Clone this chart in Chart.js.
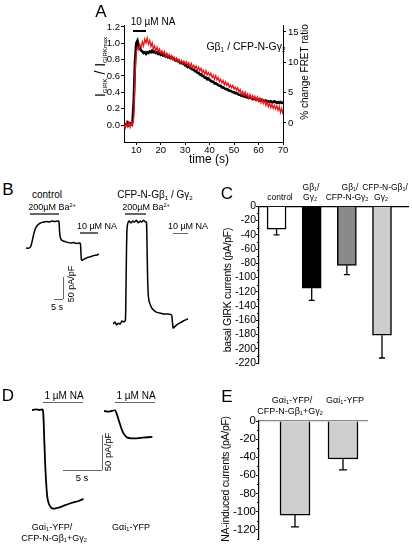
<!DOCTYPE html>
<html>
<head>
<meta charset="utf-8">
<script src="https://cdn.jsdelivr.net/npm/chart.js@4.4.1/dist/chart.umd.min.js"></script>
<style>
body{margin:0;background:#fff;}
#fig{position:relative;width:412px;height:546px;overflow:hidden;font-family:"Liberation Sans",Arial,sans-serif;color:#000;}
canvas{position:absolute;}
.t{position:absolute;transform:translate(-50%,-50%);white-space:nowrap;line-height:1;}
.r{transform:translate(-50%,-50%) rotate(-90deg);}
.k{position:absolute;background:#000;}
.g{background:#666;}
.ttl{font-size:10.5px;letter-spacing:-0.3px;}
sub{font-size:0.62em;vertical-align:-0.3em;line-height:0;}
sup{font-size:0.62em;vertical-align:0.5em;line-height:0;}
.L{font-size:17px;}
</style>
</head>
<body>
<div id="fig">
  <canvas id="cA" width="412" height="170" style="left:0;top:0"></canvas>
  <canvas id="cB1"></canvas>
  <canvas id="cB2"></canvas>
  <canvas id="cC" width="212" height="170" style="left:200px;top:200px"></canvas>
  <canvas id="cD1"></canvas>
  <canvas id="cD2"></canvas>
  <canvas id="cE" width="212" height="146" style="left:200px;top:400px"></canvas>

  <!-- A -->
  <div class="t L" style="left:101px;top:11px">A</div>
  <div class="t" style="left:153px;top:22px;font-size:10px">10 µM NA</div>
  <div class="k" style="left:133px;top:29.5px;width:13px;height:2.5px"></div>
  <div class="t" style="left:246px;top:46px;font-size:10.5px">Gβ<sub>1</sub> / CFP-N-Gγ<sub>2</sub></div>
  <div class="t r" style="left:100px;top:67px;font-size:14px">I<sub style="font-size:6px">GIRK</sub> / I<sub style="font-size:6px">GIRKmax</sub></div>
  <div class="t r" style="left:305px;top:72px;font-size:10px">% change FRET ratio</div>
  <div class="t" style="left:209px;top:159px;font-size:12px">time (s)</div>

  <!-- B -->
  <div class="t L" style="left:8px;top:189px">B</div>
  <div class="t" style="left:47px;top:195px;font-size:10px">control</div>
  <div class="t" style="left:52px;top:207px;font-size:9px">200µM Ba<sup>2+</sup></div>
  <div class="k g" style="left:30px;top:213px;width:29px;height:1.5px"></div>
  <div class="t" style="left:97px;top:226px;font-size:9px">10 µM NA</div>
  <div class="k g" style="left:80px;top:232px;width:18px;height:1.5px"></div>
  <div class="t" style="left:155px;top:195px;font-size:10px">CFP-N-Gβ<sub>1</sub> / Gγ<sub>2</sub></div>
  <div class="t" style="left:146px;top:207px;font-size:9px">200µM Ba<sup>2+</sup></div>
  <div class="k g" style="left:125px;top:213px;width:21px;height:1.5px"></div>
  <div class="t" style="left:188px;top:226px;font-size:9px">10 µM NA</div>
  <div class="k g" style="left:173px;top:232.5px;width:15px;height:1.5px"></div>
  <div class="k g" style="left:62.5px;top:277px;width:1px;height:22px"></div>
  <div class="k g" style="left:54px;top:298.5px;width:9px;height:1px"></div>
  <div class="t" style="left:57px;top:307px;font-size:9px">5 s</div>
  <div class="t r" style="left:71px;top:284px;font-size:9px">50 pA/pF</div>

  <!-- C -->
  <div class="t L" style="left:227px;top:193px">C</div>
  <div class="t" style="left:280px;top:196.5px;font-size:8.5px">control</div>
  <div class="t" style="left:311px;top:187px;font-size:8.5px">Gβ<sub>1</sub>/</div>
  <div class="t" style="left:310px;top:197px;font-size:8.5px">Gγ<sub>2</sub></div>
  <div class="t" style="left:350px;top:187px;font-size:8.5px">Gβ<sub>1</sub>/</div>
  <div class="t" style="left:347px;top:197px;font-size:8.5px">CFP-N-Gγ<sub>2</sub></div>
  <div class="t" style="left:385px;top:187px;font-size:8.5px">CFP-N-Gβ<sub>1</sub>/</div>
  <div class="t" style="left:381px;top:197px;font-size:8.5px">Gγ<sub>2</sub></div>
  <div class="t r ttl" style="left:227px;top:290px">basal GIRK currents (pA/pF)</div>

  <!-- D -->
  <div class="t L" style="left:8px;top:395px">D</div>
  <div class="t" style="left:64px;top:396px;font-size:10px">1 µM NA</div>
  <div class="k g" style="left:43px;top:401.5px;width:40px;height:1.5px"></div>
  <div class="t" style="left:136px;top:396px;font-size:10px">1 µM NA</div>
  <div class="k g" style="left:115px;top:401.5px;width:40px;height:1.5px"></div>
  <div class="k g" style="left:101.5px;top:435px;width:1px;height:35px"></div>
  <div class="k g" style="left:63px;top:470px;width:39px;height:1px"></div>
  <div class="t" style="left:82px;top:478px;font-size:9.5px">5 s</div>
  <div class="t r" style="left:108px;top:452px;font-size:9.5px">50 pA/pF</div>
  <div class="t" style="left:52px;top:527px;font-size:9px">Gαi<sub>1</sub>-YFP/</div>
  <div class="t" style="left:54px;top:538px;font-size:9px">CFP-N-Gβ<sub>1</sub>+Gγ<sub>2</sub></div>
  <div class="t" style="left:131px;top:527px;font-size:9px">Gαi<sub>1</sub>-YFP</div>

  <!-- E -->
  <div class="t L" style="left:227px;top:396px">E</div>
  <div class="t" style="left:292px;top:400px;font-size:9px">Gαi<sub>1</sub>-YFP/</div>
  <div class="t" style="left:290px;top:411px;font-size:9px">CFP-N-Gβ<sub>1</sub>+Gγ<sub>2</sub></div>
  <div class="t" style="left:345px;top:400px;font-size:9px">Gαi<sub>1</sub>-YFP</div>
  <div class="t r ttl" style="left:225px;top:479px">NA-induced currents (pA/pF)</div>
</div>
<script>
// ---- A: GIRK current vs FRET time course ----
const timeA = [
  5,5.5,6,6.5,7,7.5,8,8.5,9,9.5,
  10,10.5,11,11.5,12,12.5,13,13.5,14,14.5,
  15,15.5,16,16.5,17,17.5,18,18.5,19,19.5,
  20,20.5,21,21.5,22,22.5,23,23.5,24,24.5,
  25,25.5,26,26.5,27,27.5,28,28.5,29,29.5,
  30,30.5,31,31.5,32,32.5,33,33.5,34,34.5,
  35,35.5,36,36.5,37,37.5,38,38.5,39,39.5,
  40,40.5,41,41.5,42,42.5,43,43.5,44,44.5,
  45,45.5,46,46.5,47,47.5,48,48.5,49,49.5,
  50,50.5,51,51.5,52,52.5,53,53.5,54,54.5,
  55,55.5,56,56.5,57,57.5,58,58.5,59,59.5,
  60,60.5,61,61.5,62,62.5,63,63.5,64,64.5,
  65,65.5,66,66.5,67,67.5,68,68.5,69,69.5,
  70];
// normalised GIRK current (left axis)
const girkNorm = [
  0.02,-0.01,0.01,0.03,0.00,0.02,0.01,0.04,0.30,0.78,
  1.00,1.03,0.97,0.94,0.91,0.90,0.88,0.89,0.87,0.89,
  0.88,0.90,0.89,0.91,0.89,0.90,0.88,0.89,0.87,0.88,
  0.86,0.87,0.85,0.86,0.84,0.85,0.83,0.84,0.82,0.83,
  0.81,0.81,0.79,0.80,0.78,0.78,0.76,0.77,0.75,0.75,
  0.73,0.73,0.71,0.72,0.70,0.69,0.68,0.68,0.66,0.66,
  0.64,0.64,0.62,0.62,0.60,0.60,0.58,0.58,0.56,0.57,
  0.55,0.54,0.53,0.53,0.51,0.51,0.50,0.49,0.48,0.48,
  0.46,0.46,0.45,0.44,0.44,0.43,0.42,0.42,0.41,0.40,
  0.40,0.39,0.39,0.38,0.37,0.37,0.36,0.36,0.35,0.35,
  0.34,0.34,0.33,0.34,0.33,0.32,0.33,0.32,0.31,0.32,
  0.31,0.30,0.31,0.30,0.30,0.29,0.30,0.29,0.29,0.28,
  0.29,0.28,0.28,0.29,0.28,0.27,0.28,0.27,0.28,0.27,
  0.28];
// % change FRET ratio (right axis)
const fretPct = [
  -0.3,-0.8,0.1,-0.6,0.0,-0.7,0.1,-0.4,1.0,7.8,
  11.5,12.5,12.1,12.9,12.5,13.4,12.7,13.8,13.2,14.0,
  13.0,13.6,12.6,13.2,12.2,12.7,11.9,12.5,11.7,12.2,
  11.5,11.9,11.3,11.8,11.0,11.5,10.9,11.3,10.6,11.1,
  10.5,10.9,10.3,10.7,10.1,10.5,9.9,10.3,9.8,10.2,
  9.7,10.1,9.5,9.9,9.2,9.8,9.1,9.5,9.0,9.4,
  8.7,9.2,8.6,9.0,8.3,8.7,8.0,8.6,7.9,8.3,
  7.8,8.2,7.5,7.9,7.2,7.8,7.1,7.5,6.8,7.2,
  6.6,7.0,6.3,6.8,6.2,6.6,5.9,6.3,5.8,6.2,
  5.6,5.9,5.4,5.8,5.1,5.5,4.8,5.2,4.5,5.1,
  4.4,4.8,4.1,4.7,4.0,4.5,3.9,4.4,3.7,4.3,
  3.6,4.1,3.3,3.9,3.2,3.7,2.9,3.5,2.7,3.3,
  2.5,3.1,2.4,2.9,2.3,2.8,2.1,2.7,1.7,2.4,
  1.4];
const xTicksA = [10, 20, 30, 40, 50, 60, 70];
const yTicksA = [0, 0.2, 0.4, 0.6, 0.8, 1.0, 1.2];
const y1TicksA = [0, 5, 10, 15];

// ---- B: example current traces (s, pA/pF) ----
const ctrlTime = [0,1,2.2,2.8,3.3,3.9,4.4,5,5.6,6.5,7.8,9,10,11.5,13,14.5,16,17.5,18.3,18.6,18.9,19.2,19.6,20,21,22,23.5,25,26.5,28,29.5,30.2,30.5,30.8,31.3,32,33,34,35,36.5,38,39.5,40.5];
const ctrlCurr = [-60,-61,-59,-55,-47,-36,-27,-19,-13,-8,-4,-2,-1,0,-1,1,0,1,0,-20,-33,-38,-41,-43,-45,-46,-48,-49,-48,-50,-49,-50,-70,-87,-88,-86,-84,-82,-81,-79,-77,-76,-74];
const cfpTime = [0,1,2,3,4,5,6,6.9,7.2,7.5,7.8,8.3,9,10,11,12,13,14,15,16,17,18,18.6,18.9,19.2,19.5,19.9,20.5,21.5,22.5,24,26,28,30,32.5,33,33.4,34,35.5,37,39,41.7];
const cfpCurr = [-232,-227,-234,-230,-232,-225,-227,-223,-155,-64,-14,-2,2,-2,2,0,4,-2,2,0,4,0,0,-52,-120,-159,-177,-186,-195,-200,-205,-207,-209,-209,-211,-227,-241,-239,-234,-230,-225,-220];

// ---- C: basal GIRK currents ----
const cCategories = ['control', 'Gβ1/Gγ2', 'Gβ1/CFP-N-Gγ2', 'CFP-N-Gβ1/Gγ2'];
const cMeans = [-32, -115, -83, -181];
const cSem = [8, 17, 13, 32];
const cColors = ['#ffffff', '#000000', '#8a8a8a', '#cdcdcd'];
const cTicks = [0,-20,-40,-60,-80,-100,-120,-140,-160,-180,-200,-220];
const cMinor = [-10,-30,-50,-70,-90,-110,-130,-150,-170,-190,-210];

// ---- D: NA-induced traces ----
const dTime1 = [0,0.5,1,1.35,1.45,1.55,1.7,1.85,2.0,2.2,2.5,2.8,3.2,3.8,4.5,5.3,6,6.6];
const dCurr1 = [0,1,0,1,-5,-35,-80,-110,-127,-135,-140,-141,-140,-138,-135,-132,-130,-127];
const dTime2 = [0,0.5,1,1.4,1.6,1.8,2.0,2.2,2.45,2.7,3.0,3.5,4.2,5,6.2];
const dCurr2 = [0,-1,0,1,-3,-10,-17,-24,-31,-35,-38,-39,-39,-38,-37];

// ---- E: NA-induced currents ----
const eCategories = ['Gαi1-YFP/CFP-N-Gβ1+Gγ2', 'Gαi1-YFP'];
const eMeans = [-104, -42];
const eSem = [13, 12];
const eTicks = [0,-20,-40,-60,-80,-100,-120];
const eMinor = [-10,-30,-50,-70,-90,-110,-130];

Chart.defaults.font.family = '"Liberation Sans", Arial, sans-serif';
Chart.defaults.color = '#000';
Chart.defaults.animation = false;
Chart.defaults.plugins.legend.display = false;
Chart.defaults.plugins.tooltip.enabled = false;

const setTicks = arr => s => { s.ticks = arr.map(v => ({ value: v })); };

// error bars for bar panels
const errorBars = {
  id: 'errorBars',
  afterDatasetsDraw(chart, args, opts) {
    if (!opts.sem) return;
    const { ctx } = chart;
    const y = chart.scales.y;
    const meta = chart.getDatasetMeta(0);
    ctx.save();
    ctx.strokeStyle = '#000';
    ctx.lineWidth = 1.3;
    meta.data.forEach((bar, i) => {
      const v = chart.data.datasets[0].data[i].y;
      const y0 = y.getPixelForValue(v), y1 = y.getPixelForValue(v - opts.sem[i]);
      ctx.beginPath();
      ctx.moveTo(bar.x, y0); ctx.lineTo(bar.x, y1);
      ctx.moveTo(bar.x - opts.cap, y1); ctx.lineTo(bar.x + opts.cap, y1);
      ctx.stroke();
    });
    ctx.restore();
  }
};

// short minor ticks on the left axis
const minorTicks = {
  id: 'minorTicks',
  afterDraw(chart, args, opts) {
    if (!opts.values) return;
    const { ctx } = chart;
    const s = chart.scales.y;
    ctx.save();
    ctx.strokeStyle = '#000';
    ctx.lineWidth = 1;
    opts.values.forEach(v => {
      const p = Math.round(s.getPixelForValue(v)) + 0.5;
      ctx.beginPath();
      ctx.moveTo(s.right - 2, p); ctx.lineTo(s.right, p);
      ctx.stroke();
    });
    ctx.restore();
  }
};

// panel A
new Chart(document.getElementById('cA'), {
  type: 'line',
  data: {
    datasets: [
      { data: timeA.map((t, i) => ({ x: t, y: fretPct[i] })), yAxisID: 'y1',
        borderColor: '#e8141a', borderWidth: 1.3, pointRadius: 0, tension: 0 },
      { data: timeA.map((t, i) => ({ x: t, y: girkNorm[i] })), yAxisID: 'y',
        borderColor: '#000', borderWidth: 2.6, pointRadius: 0, tension: 0 }
    ]
  },
  options: {
    responsive: false,
    layout: { padding: { top: 25, left: 0, right: 0, bottom: 0 } },
    scales: {
      x: { type: 'linear', min: 5, max: 70, afterBuildTicks: setTicks(xTicksA),
           afterFit: s => { s.height = 28; },
           ticks: { font: { size: 9.5 }, padding: 0, autoSkip: false, maxRotation: 0 },
           grid: { drawOnChartArea: false, tickLength: 3, color: '#000' },
           border: { color: '#000', width: 1 } },
      y: { position: 'left', min: -0.208, max: 1.224, afterBuildTicks: setTicks(yTicksA),
           afterFit: s => { s.width = 124; },
           ticks: { font: { size: 9.5 }, padding: 1, autoSkip: false, callback: v => v.toFixed(1) },
           grid: { drawOnChartArea: false, tickLength: 3, color: '#000' },
           border: { color: '#000', width: 1 } },
      y1: { position: 'right', min: -3.13, max: 16.14, afterBuildTicks: setTicks(y1TicksA),
            afterFit: s => { s.width = 129; },
            ticks: { font: { size: 9.5 }, padding: 2, autoSkip: false },
            grid: { drawOnChartArea: false, tickLength: 3, color: '#000' },
            border: { color: '#000', width: 1 } }
    }
  }
});

// trace panels without axes: chart area given in page pixels
function traceChart(id, area, zeroY, pxPerS, pxPerPA, times, currents, lw) {
  const pad = 4;
  const c = document.getElementById(id);
  c.width = area.r - area.l + 2 * pad;
  c.height = area.b - area.t + 2 * pad;
  c.style.left = (area.l - pad) + 'px';
  c.style.top = (area.t - pad) + 'px';
  new Chart(c, {
    type: 'line',
    data: { datasets: [{ data: times.map((t, i) => ({ x: t, y: currents[i] })),
      borderColor: '#000', borderWidth: lw, pointRadius: 0, tension: 0.2 }] },
    options: {
      responsive: false,
      layout: { padding: pad },
      scales: {
        x: { type: 'linear', display: false, min: 0, max: (area.r - area.l) / pxPerS },
        y: { display: false, min: -(area.b - zeroY) / pxPerPA, max: (zeroY - area.t) / pxPerPA }
      }
    }
  });
}

traceChart('cB1', { l: 26, r: 100, t: 214, b: 266 }, 221.5, 1.8, 0.44, ctrlTime, ctrlCurr, 1.5);
traceChart('cB2', { l: 113, r: 190, t: 214, b: 332 }, 222, 1.8, 0.44, cfpTime, cfpCurr, 1.5);
traceChart('cD1', { l: 32, r: 84, t: 404, b: 512 }, 410, 7.8, 0.7, dTime1, dCurr1, 1.8);
traceChart('cD2', { l: 104, r: 153, t: 404, b: 442 }, 411, 7.8, 0.7, dTime2, dCurr2, 1.8);

// bar panels
function barChart(id, means, colors, ticks, minor, sem, xMin, xMax, yMin, barW, cap, padding, zeroColor, tickSize) {
  new Chart(document.getElementById(id), {
    type: 'bar',
    data: { datasets: [{ data: means.map((v, i) => ({ x: i, y: v })),
      backgroundColor: colors, borderColor: '#000', borderWidth: 1.5,
      barThickness: barW, borderSkipped: 'start' }] },
    options: {
      responsive: false,
      layout: { padding },
      scales: {
        x: { type: 'linear', position: 'top', min: xMin, max: xMax, offset: false,
             afterFit: s => { s.height = 0; },
             ticks: { display: false }, grid: { display: false, drawTicks: false },
             border: { color: zeroColor, width: 1.2 } },
        y: { min: yMin, max: 0, afterBuildTicks: setTicks(ticks),
             afterFit: s => { s.width = 59; },
             ticks: { font: { size: tickSize }, padding: 0, autoSkip: false },
             grid: { drawOnChartArea: false, tickLength: 3, color: '#000' },
             border: { color: '#000', width: 1.2 } }
      },
      plugins: { errorBars: { sem, cap }, minorTicks: { values: minor } }
    },
    plugins: [errorBars, minorTicks]
  });
}

barChart('cC', cMeans, cColors, cTicks, cMinor, cSem, -0.5, 3.74, -220, 19, 3,
  { top: 5, right: 4, bottom: 7, left: 0 }, '#000', 10.5);
barChart('cE', eMeans, ['#cfcfcf', '#cfcfcf'], eTicks, eMinor, eSem, -0.75, 1.5, -130.5, 30, 4,
  { top: 21, right: 45, bottom: 1, left: 0 }, '#888', 11.5);
</script>
</body>
</html>
